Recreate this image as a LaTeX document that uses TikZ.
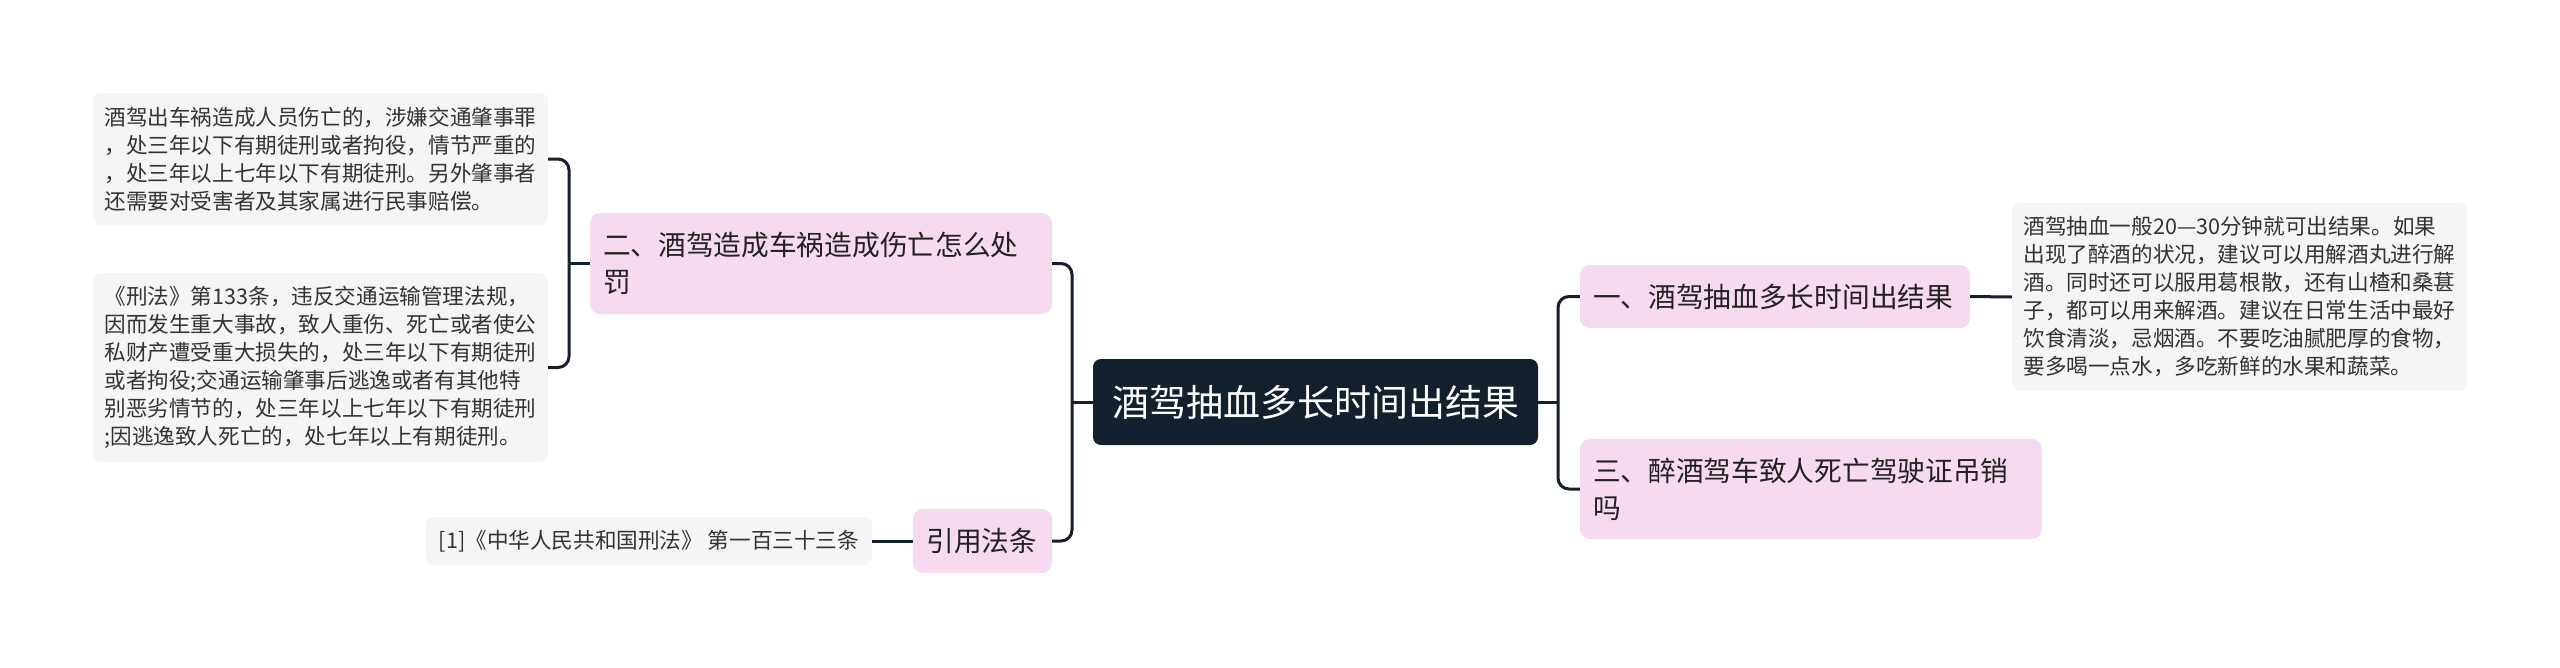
\documentclass[tikz,border=0pt]{standalone}
\usepackage{fontspec}
\setmainfont{Noto Sans CJK SC}
\definecolor{rootC}{HTML}{15202F}
\definecolor{lineC}{HTML}{15202F}
\definecolor{branchC}{HTML}{F5DAF0}
\definecolor{leafC}{HTML}{F5F5F5}
\definecolor{textC}{HTML}{222222}
\definecolor{leafT}{HTML}{333333}
\tikzset{
  conn/.style={draw=lineC, line width=3pt},
  rc/.style={conn, rounded corners=11pt},
  rootbox/.style={fill=rootC, text=white, rounded corners=8pt, minimum width=445pt, minimum height=86pt, inner sep=0pt, font=\fontsize{37pt}{44pt}\selectfont},
  branch/.style={fill=branchC, text=textC, rounded corners=10pt, inner xsep=13pt, inner ysep=0pt, align=left, font=\fontsize{27.7pt}{37pt}\selectfont},
  leaf/.style={fill=leafC, text=leafT, rounded corners=8pt, inner xsep=11.5pt, inner ysep=0pt, align=left, text width=432pt, minimum width=455pt, font=\fontsize{21.6pt}{28pt}\selectfont},
}
\begin{document}
\begin{tikzpicture}[x=1pt,y=-1pt]
\path[use as bounding box, fill=white] (0,0) rectangle (2560,667);

\node[rootbox] (root) at (1315.5,402) {酒驾抽血多长时间出结果};

\node[branch, text width=364pt, minimum height=63pt] (b1) at (1775,296.5) {一、酒驾抽血多长时间出结果};
\node[branch, text width=436pt, minimum height=100pt] (b3) at (1811,489) {三、醉酒驾车致人死亡驾驶证吊销\\吗};
\node[branch, text width=436pt, minimum height=101pt] (b2) at (821,263.5) {二、酒驾造成车祸造成伤亡怎么处\\罚};
\node[branch, text width=112pt, inner xsep=13.5pt, minimum height=64pt] (cite) at (982.5,541) {引用法条};

\node[leaf, minimum height=188pt] (lr) at (2239.5,297) {酒驾抽血一般20—30分钟就可出结果。如果\\出现了醉酒的状况，建议可以用解酒丸进行解\\酒。同时还可以服用葛根散，还有山楂和桑葚\\子，都可以用来解酒。建议在日常生活中最好\\饮食清淡，忌烟酒。不要吃油腻肥厚的食物，\\要多喝一点水，多吃新鲜的水果和蔬菜。};
\node[leaf, minimum height=132pt] (l1) at (320.5,159) {酒驾出车祸造成人员伤亡的，涉嫌交通肇事罪\\，处三年以下有期徒刑或者拘役，情节严重的\\，处三年以上七年以下有期徒刑。另外肇事者\\还需要对受害者及其家属进行民事赔偿。};
\node[leaf, minimum height=189pt] (l2) at (320.5,367.5) {《刑法》第133条，违反交通运输管理法规，\\因而发生重大事故，致人重伤、死亡或者使公\\私财产遭受重大损失的，处三年以下有期徒刑\\或者拘役;交通运输肇事后逃逸或者有其他特\\别恶劣情节的，处三年以上七年以下有期徒刑\\;因逃逸致人死亡的，处七年以上有期徒刑。};
\node[leaf, text width=, minimum width=446pt, minimum height=48pt, align=center] (ref) at (649,541) {[1]《中华人民共和国刑法》 第一百三十三条};

\coordinate (jl) at (1072,402);
\coordinate (jr) at (1558,402);
\coordinate (jb) at (569,263.5);

\draw[conn] (root.west) -- (jl);
\draw[rc] (jl) |- (b2.east);
\draw[rc] (jl) |- (cite.east);
\draw[conn] (root.east) -- (jr);
\draw[rc] (jr) |- (b1.west);
\draw[rc] (jr) |- (b3.west);
\draw[conn] (b2.west) -- (jb);
\draw[rc] (jb) |- (l1.east);
\draw[rc] (jb) |- (l2.east);
\draw[conn] (b1.east) -- (lr.west);
\draw[conn] (cite.west) -- (ref.east);
\end{tikzpicture}
\end{document}
